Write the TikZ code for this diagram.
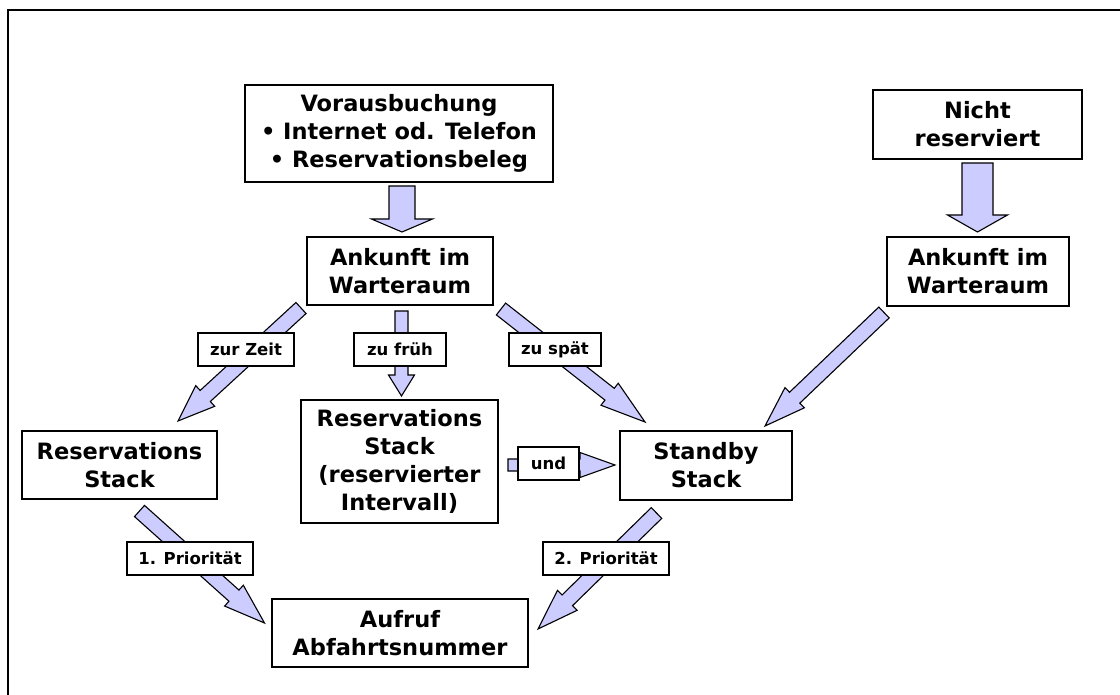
\documentclass[tikz,border=0pt]{standalone}
\usepackage{fontspec}
\setmainfont{DejaVu Sans}
\usetikzlibrary{calc}
\definecolor{arrowfill}{RGB}{204,204,255}
\tikzset{
  box/.style={draw=black, line width=1.5pt, fill=white, align=center,
    font=\bfseries\fontsize{22.5}{28}\selectfont, inner sep=0pt},
  lbl/.style={draw=black, line width=1.3pt, fill=white, align=center,
    font=\bfseries\fontsize{16.5}{19}\selectfont, inner sep=0pt, minimum height=33pt},
  fat/.style={draw=black, line width=1.1pt, fill=arrowfill, line join=miter},
  frame/.style={draw=black, line width=2pt},
}
% #1 tail, #2 tip, #3 shaft width, #4 head width, #5 head length
\newcommand\fatarrow[5]{%
  \path let \p1=($(#2)-(#1)$) in \pgfextra{%
    \pgfmathsetmacro\fatlen{veclen(\x1,\y1)}%
    \pgfmathsetmacro\fatang{atan2(\y1,\x1)}%
    \xdef\fatL{\fatlen}\xdef\fatA{\fatang}};
  \begin{scope}[shift={(#1)}, rotate=\fatA]
    \draw[fat] ({0pt},{#3pt/2}) -- ({\fatL pt-#5pt},{#3pt/2}) -- ({\fatL pt-#5pt},{#4pt/2})
      -- ({\fatL pt},{0pt}) -- ({\fatL pt-#5pt},{-#4pt/2}) -- ({\fatL pt-#5pt},{-#3pt/2})
      -- ({0pt},{-#3pt/2}) -- cycle;
  \end{scope}}
\begin{document}
\begin{tikzpicture}[x=1pt, y=-1pt]
\useasboundingbox (0,0) rectangle (1120,695);
\coordinate (fa) at (8,695);
\coordinate (fb) at (8,10);
\coordinate (fc) at (1120,10);
\draw[frame] (fa) -- (fb) -- (fc);

% arrow end points
\coordinate (a1t) at (402,186);   \coordinate (a1h) at (402,232);
\coordinate (a2t) at (977.5,163); \coordinate (a2h) at (977.5,232);
\coordinate (a3t) at (301,308);   \coordinate (a3h) at (178,421);
\coordinate (a4t) at (401.5,311); \coordinate (a4h) at (401.5,396);
\coordinate (a5t) at (501,309);   \coordinate (a5h) at (645,422);
\coordinate (a6t) at (884,312.5); \coordinate (a6h) at (765,426);
\coordinate (a7t) at (508,465);   \coordinate (a7h) at (615,465);
\coordinate (a8t) at (139.5,511); \coordinate (a8h) at (264.5,623);
\coordinate (a9t) at (656.5,513); \coordinate (a9h) at (538,629);

\fatarrow{a1t}{a1h}{26}{61}{13}
\fatarrow{a2t}{a2h}{31}{60}{17}
\fatarrow{a3t}{a3h}{15}{28}{37}
\fatarrow{a4t}{a4h}{13}{26}{21}
\fatarrow{a5t}{a5h}{15}{28}{45}
\fatarrow{a6t}{a6h}{15}{28}{41}
\fatarrow{a7t}{a7h}{12}{25}{35}
\fatarrow{a8t}{a8h}{15}{28}{41}
\fatarrow{a9t}{a9h}{15}{28}{41}

% main boxes
\node[box, minimum width=308pt, minimum height=97pt] (vor) at (399,133.5)
  {Vorausbuchung\\• Internet od. Telefon\\• Reservationsbeleg};
\node[box, minimum width=186pt, minimum height=68pt] (ank1) at (400,271)
  {Ankunft im\\Warteraum};
\node[box, minimum width=209pt, minimum height=69pt] (nicht) at (977.5,124.5)
  {Nicht\\reserviert};
\node[box, minimum width=182pt, minimum height=69pt] (ank2) at (978,271.5)
  {Ankunft im\\Warteraum};
\node[box, minimum width=195pt, minimum height=68pt] (rs1) at (119.5,465)
  {Reservations\\Stack};
\node[box, minimum width=197pt, minimum height=123pt] (rs2) at (399.5,461.5)
  {Reservations\\Stack\\(reservierter\\Intervall)};
\node[box, minimum width=172pt, minimum height=69pt] (sb) at (706,465.5)
  {Standby\\Stack};
\node[box, minimum width=256pt, minimum height=68pt] (auf) at (400,633)
  {Aufruf\\Abfahrtsnummer};

% labels
\node[lbl, minimum width=96pt] (lz) at (246,349.5) {zur Zeit};
\node[lbl, minimum width=92pt] (lf) at (400,349.5) {zu früh};
\node[lbl, minimum width=92pt] (ls) at (555,349.5) {zu spät};
\node[lbl, minimum width=61pt] (lu) at (548.5,463.5) {und};
\node[lbl, minimum width=126pt] (lp1) at (190,558.5) {1. Priorität};
\node[lbl, minimum width=126pt] (lp2) at (606,558.5) {2. Priorität};
\end{tikzpicture}
\end{document}
